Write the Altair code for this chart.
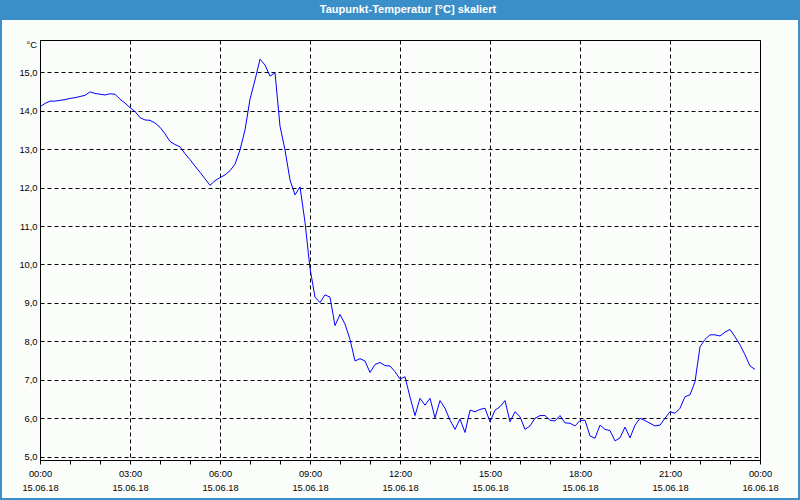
import altair as alt
import pandas as pd

# Dew point readings every 10 minutes from 00:00 on 15.06.18
dewpoint = [
    14.10, 14.19, 14.25, 14.25, 14.27, 14.29, 14.32, 14.34, 14.37, 14.40,
    14.49, 14.45, 14.43, 14.41, 14.44, 14.43, 14.30, 14.20, 14.08, 13.98,
    13.82, 13.76, 13.75, 13.68, 13.57, 13.40, 13.20, 13.12, 13.06, 12.88,
    12.73, 12.56, 12.40, 12.23, 12.06, 12.18, 12.26, 12.33, 12.44, 12.61,
    12.98, 13.50, 14.30, 14.80, 15.34, 15.19, 14.90, 14.99, 13.60, 12.98,
    12.20, 11.81, 12.02, 11.10, 9.90, 9.15, 9.01, 9.21, 9.15, 8.41,
    8.70, 8.45, 8.05, 7.49, 7.55, 7.49, 7.19, 7.40, 7.45, 7.37,
    7.36, 7.21, 7.02, 7.08, 6.55, 6.07, 6.52, 6.34, 6.52, 6.01,
    6.46, 6.26, 5.95, 5.71, 5.98, 5.63, 6.21, 6.17, 6.23, 6.26,
    5.91, 6.21, 6.30, 6.46, 5.91, 6.17, 6.04, 5.71, 5.80, 6.00,
    6.07, 6.07, 5.95, 5.93, 6.07, 5.88, 5.87, 5.80, 5.94, 5.95,
    5.54, 5.48, 5.82, 5.71, 5.68, 5.41, 5.49, 5.77, 5.49, 5.82,
    6.00, 5.94, 5.87, 5.80, 5.82, 6.00, 6.17, 6.13, 6.26, 6.56,
    6.61, 6.95, 7.86, 8.05, 8.17, 8.17, 8.14, 8.24, 8.31, 8.12,
    7.91, 7.65, 7.36, 7.27,
]
minutes = [10 * i for i in range(len(dewpoint))]
y_ticks = [5, 6, 7, 8, 9, 10, 11, 12, 13, 14, 15]
x_ticks = list(range(25))
title_text = "Taupunkt-Temperatur [°C] skaliert"
unit_text = "°C"

df = pd.DataFrame({"hour": [m / 60 for m in minutes], "dew": dewpoint})

BLUE = "#3b8fc8"
FONT = "Liberation Sans"
LFS = 9.3

x_label_expr = (
    "datum.value % 3 === 0 ? "
    "[(datum.value % 24 < 10 ? '0' : '') + (datum.value % 24) + ':00', "
    "datum.value < 24 ? '15.06.18' : '16.06.18'] : ''"
)

line = alt.Chart(df).mark_line(color="#0000ff", strokeWidth=1).encode(
    x=alt.X(
        "hour:Q",
        scale=alt.Scale(domain=[0, 24], nice=False, zero=False),
        axis=alt.Axis(
            values=x_ticks,
            labelExpr=x_label_expr,
            title=None,
            domain=False,
            tickSize=4,
            tickColor="#000000",
            labelFont=FONT,
            labelFontSize=LFS,
            labelColor="#000000",
            labelPadding=5,
            labelLineHeight=14.5,
            labelBaseline="top",
            labelFlush=False,
            labelOverlap=False,
            grid=True,
            gridColor="#000000",
            gridDash=[4, 3],
            gridOpacity={"condition": {"test": "datum.value % 3 === 0", "value": 1}, "value": 0},
        ),
    ),
    y=alt.Y(
        "dew:Q",
        scale=alt.Scale(domain=[4.914, 15.84], nice=False, zero=False),
        axis=alt.Axis(
            values=y_ticks,
            labelExpr="replace(format(datum.value, '.1f'), '.', ',')",
            title=None,
            domain=False,
            ticks=False,
            labelFont=FONT,
            labelFontSize=LFS,
            labelColor="#000000",
            labelPadding=3,
            grid=True,
            gridColor="#000000",
            gridDash=[4, 3],
            gridOpacity=1,
        ),
    ),
)

one = alt.Data(values=[{}])

title_bar = alt.Chart(one).mark_rect(color=BLUE).encode(
    x=alt.value(-40), x2=alt.value(760), y=alt.value(-40), y2=alt.value(-20)
)
title = alt.Chart(one).mark_text(
    color="white", font=FONT, fontSize=11, fontWeight="bold", align="center", baseline="middle"
).encode(x=alt.value(368), y=alt.value(-30), text=alt.value(title_text))

unit = alt.Chart(one).mark_text(
    color="#000000", font=FONT, fontSize=LFS, align="right", baseline="middle"
).encode(x=alt.value(-3), y=alt.value(5), text=alt.value(unit_text))

border = alt.Chart(one).mark_rect(fill=None, stroke=BLUE, strokeWidth=2).encode(
    x=alt.value(-39), x2=alt.value(759), y=alt.value(-39), y2=alt.value(459)
)

chart = alt.layer(line, title_bar, title, unit, border).properties(
    width=720,
    height=420,
    autosize=alt.AutoSizeParams(type="none"),
    padding={"left": 40, "top": 40, "right": 40, "bottom": 40},
    background="#fbfdfb",
).configure_view(stroke="#000000", strokeWidth=1, fill="#fbfdfb")

chart.save("out.html", embed_options={"renderer": "svg", "actions": False})
